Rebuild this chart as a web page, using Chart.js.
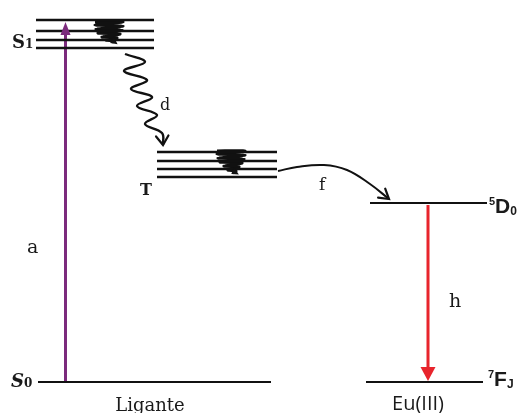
<!DOCTYPE html>
<html>
<head>
<meta charset="utf-8">
<script src="https://cdn.jsdelivr.net/npm/chart.js@4/dist/chart.umd.min.js"></script>
<style>
  body { margin: 0; background: #fff; }
  #wrap { width: 528px; height: 413px; }
</style>
</head>
<body>
<div id="wrap"><canvas id="diagram" width="528" height="413"></canvas></div>
<script>
// drawing units: x to the right, y downward (energy goes up the page)
const s1Levels = [20, 31, 40, 48];
const s1Span = [36, 154];
const tLevels = [152, 161, 169, 177];
const tSpan = [157, 277];
const s0Level = 382;
const s0Span = [38, 271];
const d0Level = 203;
const d0Span = [370, 487];
const fjLevel = 382;
const fjSpan = [366, 483];

// a: absorption, h: Eu emission
const absorptionX = 65.5;
const absorptionY = [382, 27];
const emissionX = 428;
const emissionY = [205, 375];

// d: intersystem crossing (wavy), f: energy transfer
const crossingD = [[125, 54], [145, 62], [124, 71], [147, 80], [131, 89], [152, 97],
  [137, 106], [157, 115], [145, 124], [162, 133], [163, 145]];
const transferF = [[278, 171], [297, 167], [324, 165], [347, 170], [370, 184], [389, 199]];

// vibrational relaxation coils
const relaxS1 = [[95, 22], [123, 22], [95, 25], [123, 26], [96, 29], [122, 30],
  [98, 33], [120, 34], [102, 37], [117, 38], [106, 40], [114, 41], [112, 42]];
const relaxT = [[217, 151], [245, 151], [217, 154], [245, 155], [218, 158], [244, 159],
  [220, 162], [242, 163], [224, 166], [239, 167], [228, 170], [236, 171], [233, 173]];

const labels = [
  { x: 12, y: 48, parts: [["S", "bold 18px 'DejaVu Serif'"], ["1", "bold 12px 'DejaVu Serif'"]] },
  { x: 11, y: 387, parts: [["S", "bold italic 18px 'DejaVu Serif'"], ["0", "bold 12px 'DejaVu Serif'"]] },
  { x: 140, y: 195, parts: [["T", "bold 16px 'DejaVu Serif'"]] },
  { x: 160, y: 110, parts: [["d", "16px 'DejaVu Serif'"]] },
  { x: 319, y: 190, parts: [["f", "17px 'DejaVu Serif'"]] },
  { x: 27, y: 253, parts: [["a", "19px 'DejaVu Serif'"]] },
  { x: 449, y: 307, parts: [["h", "19px 'DejaVu Serif'"]] },
  { x: 489, y: 213, parts: [["5", "bold 11px 'Liberation Sans'", -8], ["D", "bold 21px 'Liberation Sans'"], ["0", "bold 12px 'Liberation Sans'", 2]] },
  { x: 488, y: 386, parts: [["7", "bold 11px 'Liberation Sans'", -8], ["F", "bold 21px 'Liberation Sans'"], ["J", "bold 12px 'Liberation Sans'", 2]] },
  { x: 150, y: 411, align: "center", parts: [["Ligante", "18px 'DejaVu Serif'"]] },
  { x: 418, y: 410, align: "center", parts: [["Eu(III)", "20px 'Open Sans'"]] }
];

const pts = arr => arr.map(p => ({ x: p[0], y: p[1] }));
const hline = (y, span) => [{ x: span[0], y: y }, { x: span[1], y: y }];

const datasets = [];
function line(data, color, width, extra) {
  datasets.push(Object.assign({
    data: data, showLine: true, borderColor: color, borderWidth: width,
    pointRadius: 0, tension: 0, fill: false
  }, extra || {}));
}

s1Levels.forEach(y => line(hline(y, s1Span), "#111", 2.4));
tLevels.forEach(y => line(hline(y, tSpan), "#111", 2.4));
line(hline(s0Level, s0Span), "#111", 1.8);
line(hline(d0Level, d0Span), "#111", 2.2);
line(hline(fjLevel, fjSpan), "#111", 1.8);

line(absorptionY.map(y => ({ x: absorptionX, y })), "#7b2a7c", 3,
  { arrowHead: { style: "filled", len: 13, width: 10, reach: 5 } });
line(emissionY.map(y => ({ x: emissionX, y })), "#e8242c", 3,
  { arrowHead: { style: "filled", len: 14, width: 15, reach: 6 } });

line(pts(crossingD), "#111", 2.4, { tension: 0.4, arrowHead: { style: "open", len: 11, spread: 0.6 } });
line(pts(transferF), "#111", 2, { tension: 0.4, arrowHead: { style: "open", len: 11, spread: 0.55 } });
line(pts(relaxS1), "#111", 3.2, { tension: 0.2, arrowHead: { style: "filled", len: 6, width: 9, reach: 2 } });
line(pts(relaxT), "#111", 3.2, { tension: 0.2, arrowHead: { style: "filled", len: 6, width: 9, reach: 2 } });

// arrow heads at the last point of a dataset
const arrowPlugin = {
  id: "arrowHeads",
  afterDatasetsDraw(chart) {
    const ctx = chart.ctx;
    chart.data.datasets.forEach((ds, i) => {
      const a = ds.arrowHead;
      if (!a) return;
      const pts = chart.getDatasetMeta(i).data;
      const p1 = pts[pts.length - 2], p2 = pts[pts.length - 1];
      const ang = Math.atan2(p2.y - p1.y, p2.x - p1.x);
      const tx = p2.x + Math.cos(ang) * (a.reach || 0);
      const ty = p2.y + Math.sin(ang) * (a.reach || 0);
      ctx.save();
      ctx.translate(tx, ty);
      ctx.rotate(ang);
      ctx.strokeStyle = ds.borderColor;
      ctx.fillStyle = ds.borderColor;
      if (a.style === "filled") {
        ctx.beginPath();
        ctx.moveTo(0, 0);
        ctx.lineTo(-a.len, -a.width / 2);
        ctx.lineTo(-a.len, a.width / 2);
        ctx.closePath();
        ctx.fill();
      } else {
        ctx.lineWidth = 2.2;
        ctx.lineCap = "round";
        ctx.beginPath();
        ctx.moveTo(-a.len * Math.cos(a.spread), -a.len * Math.sin(a.spread));
        ctx.lineTo(0, 0);
        ctx.lineTo(-a.len * Math.cos(a.spread), a.len * Math.sin(a.spread));
        ctx.stroke();
      }
      ctx.restore();
    });
  }
};

// state names and transition letters
const labelPlugin = {
  id: "stateLabels",
  afterDraw(chart) {
    const ctx = chart.ctx;
    const sx = chart.scales.x, sy = chart.scales.y;
    ctx.save();
    ctx.fillStyle = "#1a1a1a";
    ctx.textBaseline = "alphabetic";
    labels.forEach(l => {
      let x = sx.getPixelForValue(l.x);
      const y = sy.getPixelForValue(l.y);
      if (l.align === "center") {
        let w = 0;
        l.parts.forEach(p => { ctx.font = p[1]; w += ctx.measureText(p[0]).width; });
        x -= w / 2;
      }
      l.parts.forEach(p => {
        ctx.font = p[1];
        ctx.fillText(p[0], x, y + (p[2] || 0));
        x += ctx.measureText(p[0]).width;
      });
    });
    ctx.restore();
  }
};

new Chart(document.getElementById("diagram"), {
  type: "scatter",
  data: { datasets: datasets },
  options: {
    responsive: false,
    animation: false,
    layout: { padding: 0 },
    plugins: { legend: { display: false }, tooltip: { enabled: false } },
    scales: {
      x: { type: "linear", min: 0, max: 528, display: false },
      y: { type: "linear", min: 0, max: 413, reverse: true, display: false }
    }
  },
  plugins: [arrowPlugin, labelPlugin]
});
</script>
</body>
</html>
